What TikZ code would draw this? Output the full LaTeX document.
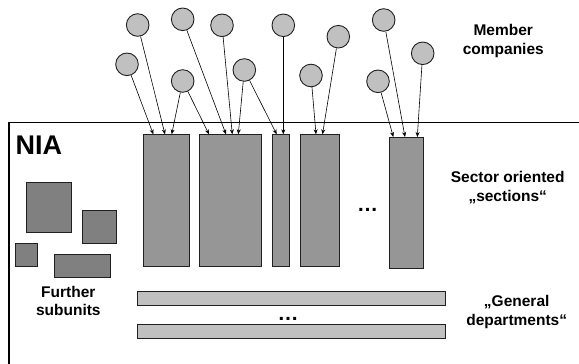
\documentclass[tikz,border=0pt]{standalone}
\usepackage{fontspec}
\setmainfont{Liberation Sans}
\usetikzlibrary{arrows.meta}
\definecolor{circfill}{HTML}{C0C0C0}
\definecolor{secfill}{HTML}{969696}
\definecolor{subfill}{HTML}{808080}
\definecolor{barfill}{HTML}{C0C0C0}
\definecolor{edge}{HTML}{202020}
\begin{document}
\begin{tikzpicture}[x=1pt,y=-1pt,
  member/.style={circle,draw=edge,line width=0.9pt,fill=circfill,minimum size=22.6pt,inner sep=0pt},
  block/.style={draw=edge,line width=0.9pt,inner sep=0pt,anchor=north west},
  sectionbox/.style={block,fill=secfill},
  subbox/.style={block,fill=subfill},
  deptbar/.style={block,fill=barfill},
  link/.style={draw=black,line width=0.6pt,-{Stealth[length=5pt,width=4pt]}},
  label/.style={font=\bfseries\fontsize{15.5}{18.3}\selectfont,align=center},
  dots/.style={font=\bfseries\fontsize{21}{21}\selectfont,inner sep=0pt}
]
\useasboundingbox (0,0) rectangle (579,364);

% organisation frame (open to the right and bottom)
\coordinate (frameTL) at (9,122.7);
\coordinate (frameTR) at (579,122.7);
\coordinate (frameBL) at (9,364);
\draw[line width=1.5pt,draw=black] (frameBL) -- (frameTL) -- (frameTR);
\node[anchor=base west,font=\bfseries\fontsize{27}{27}\selectfont,inner sep=0pt] (nia) at (15.5,154) {NIA};

% sector oriented sections
\node[sectionbox,minimum width=45.4,minimum height=131.4] (s1) at (143.3,134.3) {};
\node[sectionbox,minimum width=61.7,minimum height=131.4] (s2) at (199.3,134.3) {};
\node[sectionbox,minimum width=17,minimum height=131.4] (s3) at (272,134.3) {};
\node[sectionbox,minimum width=39.3,minimum height=131.4] (s4) at (300,134.3) {};
\node[sectionbox,minimum width=34,minimum height=131.3] (s5) at (389.3,137) {};
\node[dots] (secdots) at (367.5,210) {…};

% further subunits
\node[subbox,minimum width=44.7,minimum height=50.6] (u1) at (26.3,181.7) {};
\node[subbox,minimum width=33.4,minimum height=33.6] (u2) at (82.3,209.7) {};
\node[subbox,minimum width=22.3,minimum height=22.4] (u3) at (15,243.3) {};
\node[subbox,minimum width=55.7,minimum height=22.7] (u4) at (54.3,254.3) {};

% general departments
\node[deptbar,minimum width=308,minimum height=14] (d1) at (137.3,290.7) {};
\node[deptbar,minimum width=308,minimum height=14] (d2) at (137.3,324.3) {};
\node[dots] (deptdots) at (288,319) {…};

% member companies
\node[member] (m1) at (137.7,25) {};
\node[member] (m2) at (127,64.3) {};
\node[member] (m3) at (182.7,19.3) {};
\node[member] (m4) at (182.7,81) {};
\node[member] (m5) at (222,25.3) {};
\node[member] (m6) at (244.3,70) {};
\node[member] (m7) at (283.3,25.3) {};
\node[member] (m8) at (311,75.5) {};
\node[member] (m9) at (338.3,36.7) {};
\node[member] (m10) at (383.7,20) {};
\node[member] (m11) at (378,81.3) {};
\node[member] (m12) at (422.7,53.3) {};

% membership links ending on the section tops
\coordinate (t1) at (153.3,134.3);
\coordinate (t2) at (165,134.3);
\coordinate (t3) at (171.7,134.3);
\coordinate (t4) at (209,134.3);
\coordinate (t5) at (226,134.3);
\coordinate (t6) at (232.3,134.3);
\coordinate (t7) at (238.3,134.3);
\coordinate (t8) at (276.7,134.3);
\coordinate (t9) at (283.3,134.3);
\coordinate (t10) at (316,134.3);
\coordinate (t11) at (322.5,134.3);
\coordinate (t12) at (393.3,137);
\coordinate (t13) at (405,137);
\coordinate (t14) at (417.3,137);

\draw[link] (m2) -- (t1);
\draw[link] (m1) -- (t2);
\draw[link] (m4) -- (t3);
\draw[link] (m4) -- (t4);
\draw[link] (m3) -- (t5);
\draw[link] (m5) -- (t6);
\draw[link] (m6) -- (t7);
\draw[link] (m6) -- (t8);
\draw[link] (m7) -- (t9);
\draw[link] (m8) -- (t10);
\draw[link] (m9) -- (t11);
\draw[link] (m11) -- (t12);
\draw[link] (m10) -- (t13);
\draw[link] (m12) -- (t14);

% captions
\node[label] (lmember) at (503.3,41) {Member\\companies};
\node[label] (lsector) at (507.7,187.5) {Sector oriented\\„sections“};
\node[label] (lsub) at (68.3,301) {Further\\subunits};
\node[label] (ldept) at (516.7,312) {„General\\departments“};
\end{tikzpicture}
\end{document}
